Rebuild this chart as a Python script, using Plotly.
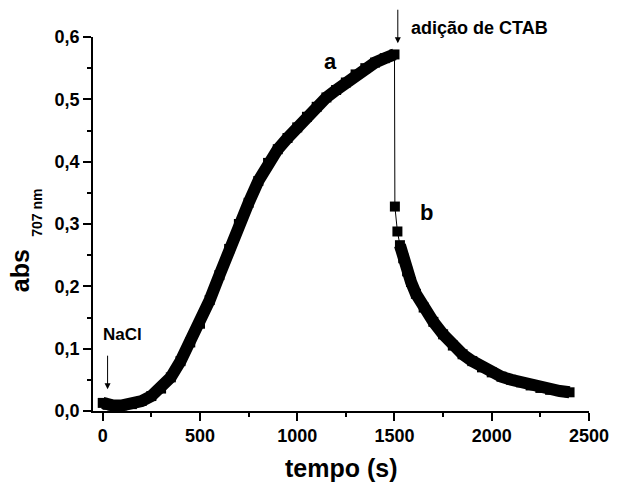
import plotly.graph_objects as go

# Absorbance at 707 nm versus time; run "a" (after NaCl) and run "b" (after CTAB)
t_a = [0, 25, 50, 100, 150, 200, 250, 300, 350, 400, 450, 500, 550, 600, 650,
       700, 750, 800, 850, 900, 950, 1000, 1050, 1100, 1150, 1200, 1250, 1300,
       1350, 1400, 1450, 1500]
abs_a = [0.013, 0.010, 0.009, 0.009, 0.011, 0.016, 0.024, 0.036, 0.054, 0.080,
         0.110, 0.140, 0.178, 0.218, 0.260, 0.300, 0.334, 0.369, 0.398, 0.420,
         0.438, 0.455, 0.472, 0.488, 0.503, 0.515, 0.527, 0.540, 0.550, 0.559,
         0.566, 0.572]

t_b = [1502, 1515, 1528, 1545, 1565, 1585, 1610, 1650, 1700, 1750, 1800, 1850,
       1900, 1950, 2000, 2050, 2100, 2150, 2200, 2250, 2300, 2350, 2400]
abs_b = [0.328, 0.288, 0.266, 0.245, 0.224, 0.207, 0.188, 0.166, 0.143, 0.123,
         0.105, 0.091, 0.080, 0.070, 0.062, 0.055, 0.050, 0.046, 0.041, 0.037,
         0.034, 0.032, 0.030]

x_tick_vals = [0, 500, 1000, 1500, 2000, 2500]
x_tick_text = ["0", "500", "1000", "1500", "2000", "2500"]
y_tick_vals = [0.0, 0.1, 0.2, 0.3, 0.4, 0.5, 0.6]
y_tick_text = ["0,0", "0,1", "0,2", "0,3", "0,4", "0,5", "0,6"]

FONT = "Liberation Sans, Arial, Helvetica, sans-serif"
INK = "black"

fig = go.Figure()

# thin joining line through every reading (visible across the CTAB jump)
fig.add_trace(go.Scatter(
    x=t_a + t_b, y=abs_a + abs_b, mode="lines",
    line=dict(color=INK, width=1), hoverinfo="skip", showlegend=False))

# continuous runs of densely spaced readings
fig.add_trace(go.Scatter(
    x=t_a, y=abs_a, mode="lines",
    line=dict(color=INK, width=12), hoverinfo="skip", showlegend=False))
fig.add_trace(go.Scatter(
    x=t_b[2:], y=abs_b[2:], mode="lines",
    line=dict(color=INK, width=12), hoverinfo="skip", showlegend=False))

# square symbols
fig.add_trace(go.Scatter(
    x=t_a + t_b, y=abs_a + abs_b, mode="markers",
    marker=dict(symbol="square", size=10, color=INK, line=dict(width=0)),
    showlegend=False))

axis_common = dict(
    showline=True, linecolor=INK, linewidth=1.5, mirror=False,
    showgrid=False, zeroline=False,
    ticks="outside", ticklen=8, tickwidth=1.5, tickcolor=INK,
    tickfont=dict(family=FONT, size=18, color=INK, weight="bold"),
)

fig.update_xaxes(
    range=[-50, 2500], tickmode="array", tickvals=x_tick_vals, ticktext=x_tick_text,
    minor=dict(ticks="outside", ticklen=4, tickwidth=1.5, tickcolor=INK,
               tick0=0, dtick=250),
    **axis_common)
fig.update_yaxes(
    range=[0, 0.6], tickmode="array", tickvals=y_tick_vals, ticktext=y_tick_text,
    minor=dict(ticks="outside", ticklen=4, tickwidth=1.5, tickcolor=INK,
               tick0=0, dtick=0.05),
    **axis_common)

# axis titles
fig.add_annotation(xref="paper", yref="paper", x=0.5, y=-0.152,
                   text="<b>tempo (s)</b>", showarrow=False,
                   font=dict(family=FONT, size=25, color=INK),
                   xanchor="center", yanchor="middle")
fig.add_annotation(xref="paper", yref="paper", x=-0.147, y=0.374,
                   text="<b>abs</b>", showarrow=False, textangle=-90,
                   font=dict(family=FONT, size=25, color=INK),
                   xanchor="center", yanchor="middle")
fig.add_annotation(xref="paper", yref="paper", x=-0.113, y=0.530,
                   text="<b>707 nm</b>", showarrow=False, textangle=-90,
                   font=dict(family=FONT, size=14, color=INK),
                   xanchor="center", yanchor="middle")

# event markers
fig.add_annotation(x=1517, y=0.590, ax=0, ay=-35, axref="pixel", ayref="pixel",
                   text="", showarrow=True, arrowhead=2, arrowsize=1.2,
                   arrowwidth=1, arrowcolor=INK)
fig.add_annotation(xref="paper", yref="paper", x=0.6376, y=1.0235,
                   text="<b>adição de CTAB</b>", showarrow=False,
                   font=dict(family=FONT, size=18, color=INK),
                   xanchor="left", yanchor="middle")
fig.add_annotation(x=25, y=0.035, ax=0, ay=-35, axref="pixel", ayref="pixel",
                   text="", showarrow=True, arrowhead=2, arrowsize=1.2,
                   arrowwidth=1, arrowcolor=INK)
fig.add_annotation(x=100, y=0.122, text="<b>NaCl</b>", showarrow=False,
                   font=dict(family=FONT, size=17, color=INK),
                   xanchor="center", yanchor="middle")

# curve labels
fig.add_annotation(x=1169, y=0.560, text="<b>a</b>", showarrow=False,
                   font=dict(family=FONT, size=22, color=INK),
                   xanchor="center", yanchor="middle")
fig.add_annotation(x=1665, y=0.3185, text="<b>b</b>", showarrow=False,
                   font=dict(family=FONT, size=22, color=INK),
                   xanchor="center", yanchor="middle")

fig.update_layout(
    width=621, height=486,
    margin=dict(l=93, r=23, t=37, b=75, pad=0),
    paper_bgcolor="white", plot_bgcolor="white",
    font=dict(family=FONT, color=INK),
    showlegend=False,
)

fig.write_html("out.html")
